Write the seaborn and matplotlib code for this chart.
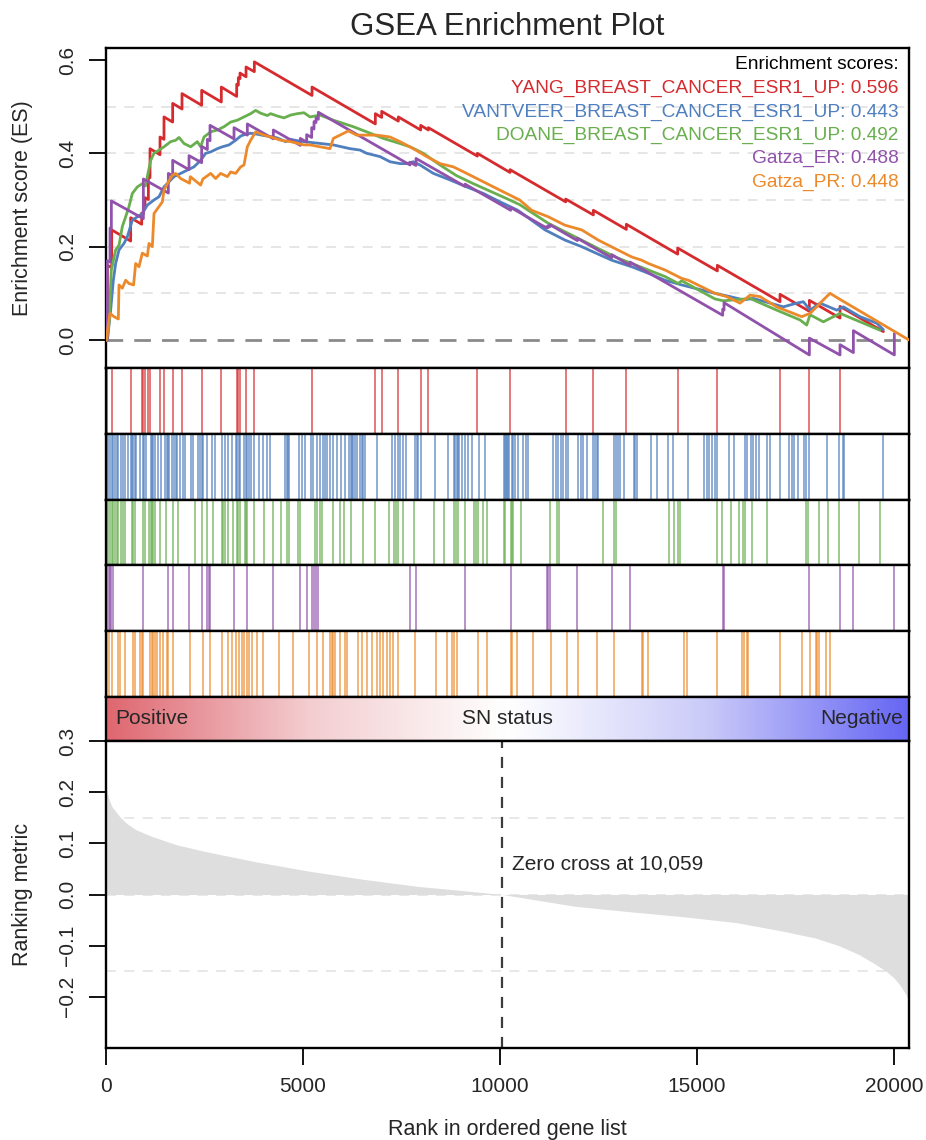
import matplotlib
matplotlib.use("Agg")
import numpy as np
import pandas as pd
import matplotlib.pyplot as plt
import seaborn as sns
from matplotlib.colors import LinearSegmentedColormap

# ---------------- data ----------------
N_GENES = 20380
ZERO_CROSS = 10059

set_names = ["YANG_BREAST_CANCER_ESR1_UP", "VANTVEER_BREAST_CANCER_ESR1_UP",
             "DOANE_BREAST_CANCER_ESR1_UP", "Gatza_ER", "Gatza_PR"]
set_colors = ["#D52B2F", "#4F7FBE", "#69AE4F", "#9052AA", "#EC8A2B"]
es_scores = [0.596, 0.443, 0.492, 0.488, 0.448]

# sawtooth sets: jump ranks with ES just before / after the jump
red_jump_rank = [34, 144, 626, 906, 948, 990, 1075, 1117, 1371, 1472, 1692, 1929, 2428, 2927,
                 3317, 3359, 3401, 3554, 3765, 5229, 6836, 6997, 7420, 7987, 8181, 9425, 10254,
                 11667, 12369, 13206, 14509, 15516, 17106, 17851, 18629]
red_es_before = [0, 0.155, 0.212, 0.248, 0.27, 0.288, 0.301, 0.348, 0.397, 0.43, 0.467, 0.495,
                 0.503, 0.51, 0.522, 0.546, 0.56, 0.564, 0.575, 0.524, 0.463, 0.477, 0.469, 0.45,
                 0.45, 0.394, 0.359, 0.296, 0.268, 0.237, 0.184, 0.148, 0.082, 0.0615, 0.047]
red_es_after = [0.16, 0.236, 0.262, 0.272, 0.29, 0.305, 0.35, 0.41, 0.435, 0.478, 0.507, 0.528,
                0.535, 0.542, 0.548, 0.562, 0.572, 0.585, 0.596, 0.542, 0.485, 0.49, 0.478, 0.46,
                0.455, 0.40, 0.365, 0.302, 0.278, 0.248, 0.197, 0.16, 0.098, 0.085, 0.072]
red_end = (19730, 0.018)

purple_jump_rank = [34, 102, 136, 948, 1582, 1692, 2107, 2428, 2572, 2640, 3249, 3587, 4247, 4932,
                    5093, 5220, 5279, 5330, 5389, 7716, 7868, 9112, 10271, 11184, 11227, 11269,
                    11963, 12834, 13299, 15651, 15685, 17851, 18629, 18968, 20008]
purple_es_before = [0, 0.167, 0.238, 0.26, 0.315, 0.352, 0.365, 0.38, 0.408, 0.427, 0.431, 0.439,
                    0.431, 0.417, 0.424, 0.434, 0.452, 0.466, 0.473, 0.375, 0.374, 0.329, 0.278,
                    0.24, 0.241, 0.243, 0.213, 0.176, 0.16, 0.053, 0.064, -0.032, -0.032, -0.027,
                    -0.032]
purple_es_after = [0.17, 0.24, 0.298, 0.345, 0.357, 0.385, 0.395, 0.415, 0.43, 0.46, 0.455, 0.463,
                   0.45, 0.432, 0.44, 0.455, 0.468, 0.476, 0.488, 0.381, 0.389, 0.334, 0.284,
                   0.243, 0.245, 0.247, 0.218, 0.183, 0.167, 0.066, 0.08, 0.004, -0.01, 0.02,
                   0.014]

# dense sets: running-score vertices
blue_rank = [0, 34, 118, 186, 245, 330, 457, 541, 668, 795, 922, 1049, 1218, 1345, 1472, 1599,
             1726, 1895, 2064, 2233, 2402, 2529, 2656, 2825, 2952, 3122, 3290, 3418, 3545, 3671,
             3841, 4010, 4179, 4348, 4560, 4687, 4856, 5025, 5770, 6193, 6447, 6616, 6954, 7208,
             7462, 7631, 7800, 7970, 8308, 8731, 9154, 9577, 10000, 10450, 11141, 11650, 12072,
             12833, 13341, 13764, 14187, 14610, 15456, 15838, 16176, 16430, 16853, 17191, 17530,
             17700, 17868, 18122, 18545, 18714, 19137, 19560, 19730]
blue_es = [0, 0, 0.064, 0.128, 0.164, 0.193, 0.207, 0.221, 0.257, 0.264, 0.271, 0.289, 0.30,
           0.307, 0.328, 0.339, 0.35, 0.357, 0.364, 0.371, 0.385, 0.40, 0.403, 0.41, 0.414,
           0.418, 0.428, 0.437, 0.441, 0.443, 0.441, 0.438, 0.436, 0.433, 0.425, 0.43, 0.427,
           0.425, 0.418, 0.41, 0.407, 0.40, 0.393, 0.382, 0.378, 0.378, 0.382, 0.375, 0.357,
           0.343, 0.328, 0.314, 0.296, 0.278, 0.236, 0.214, 0.20, 0.171, 0.157, 0.143, 0.128,
           0.118, 0.10, 0.093, 0.086, 0.089, 0.079, 0.071, 0.079, 0.082, 0.064, 0.079, 0.064,
           0.071, 0.05, 0.036, 0.022]

green_rank = [0, 34, 76, 135, 245, 330, 414, 499, 584, 668, 795, 922, 1000, 1134, 1218, 1345,
              1472, 1641, 1768, 1853, 1980, 2149, 2318, 2402, 2487, 2656, 2825, 2995, 3164, 3333,
              3502, 3671, 3798, 3925, 4094, 4179, 4348, 4517, 4687, 4856, 5025, 5178, 5432, 5770,
              6024, 6278, 6616, 7039, 7462, 7716, 8054, 8477, 8900, 9323, 9746, 10169, 10500,
              11226, 12072, 12918, 13341, 14187, 14525, 14610, 15456, 15668, 16345, 17022, 17614,
              17783, 17868, 18206, 18629, 19137, 19645]
green_es = [0, 0, 0.036, 0.15, 0.193, 0.203, 0.243, 0.264, 0.286, 0.314, 0.328, 0.335, 0.33,
            0.385, 0.40, 0.407, 0.414, 0.425, 0.428, 0.434, 0.421, 0.414, 0.425, 0.414, 0.435,
            0.446, 0.45, 0.457, 0.467, 0.471, 0.478, 0.485, 0.492, 0.486, 0.481, 0.485, 0.48,
            0.476, 0.482, 0.485, 0.487, 0.478, 0.482, 0.471, 0.464, 0.457, 0.446, 0.432, 0.421,
            0.414, 0.40, 0.375, 0.352, 0.335, 0.319, 0.303, 0.29, 0.25, 0.214, 0.178, 0.164,
            0.136, 0.121, 0.127, 0.088, 0.084, 0.089, 0.064, 0.043, 0.032, 0.054, 0.039, 0.057,
            0.039, 0.021]

orange_rank = [0, 17, 51, 101, 203, 313, 330, 414, 499, 584, 700, 753, 837, 922, 1050, 1091,
               1176, 1218, 1345, 1430, 1472, 1556, 1683, 1768, 1895, 2120, 2140, 2402, 2460, 2656,
               2783, 2910, 3079, 3164, 3291, 3418, 3502, 3587, 3671, 3798, 4010, 4179, 4433, 4687,
               5025, 5178, 5685, 5770, 5939, 6151, 6362, 6616, 6870, 7208, 7462, 7800, 8139, 8477,
               8816, 9154, 9577, 10000, 10500, 10803, 11226, 11649, 12072, 12495, 12918, 13341,
               13595, 13764, 14187, 14610, 14779, 15118, 15456, 15753, 16091, 16345, 16599, 17022,
               17445, 17657, 17868, 18037, 18206, 18376, 18629, 20380]
orange_es = [0, 0, 0.029, 0.057, 0.05, 0.045, 0.118, 0.111, 0.128, 0.121, 0.118, 0.164, 0.157,
             0.186, 0.18, 0.207, 0.2, 0.271, 0.286, 0.296, 0.321, 0.335, 0.353, 0.357, 0.346,
             0.336, 0.35, 0.332, 0.345, 0.357, 0.346, 0.357, 0.35, 0.36, 0.357, 0.371, 0.375,
             0.414, 0.428, 0.446, 0.439, 0.435, 0.428, 0.425, 0.418, 0.418, 0.41, 0.432, 0.439,
             0.448, 0.439, 0.439, 0.439, 0.435, 0.425, 0.41, 0.393, 0.378, 0.371, 0.357, 0.339,
             0.321, 0.30, 0.278, 0.264, 0.246, 0.236, 0.214, 0.196, 0.178, 0.171, 0.164, 0.15,
             0.132, 0.128, 0.114, 0.10, 0.093, 0.079, 0.096, 0.093, 0.071, 0.057, 0.05, 0.057,
             0.071, 0.086, 0.1, 0.087, 0.0]

# hit positions (gene ranks) per set
red_hits = red_jump_rank
blue_hits = [17, 60, 102, 144, 186, 229, 271, 313, 373, 423, 483, 567, 626, 660, 694, 728, 762,
             863, 931, 973, 1015, 1134, 1168, 1202, 1244, 1329, 1388, 1506, 1540, 1574, 1608,
             1667, 1726, 1768, 1811, 1878, 1946, 2005, 2149, 2217, 2344, 2386, 2428, 2471, 2555,
             2682, 2767, 2936, 3021, 3105, 3190, 3300, 3334, 3367, 3401, 3503, 3545, 3587, 3630,
             3672, 3757, 3892, 3993, 4078, 4163, 4543, 4586, 4628, 4653, 4907, 4966, 5051, 5195,
             5262, 5347, 5432, 5499, 5550, 5601, 5685, 5770, 5872, 5956, 6066, 6176, 6210, 6244,
             6278, 6320, 6379, 6447, 6489, 6531, 6574, 6870, 7251, 7335, 7420, 7462, 7547, 7614,
             7843, 7885, 7927, 7987, 8351, 8689, 8833, 8866, 8900, 8934, 8968, 9027, 9112, 9196,
             9281, 9475, 9619, 10102, 10135, 10152, 10169, 10203, 10237, 10296, 10338, 10381,
             10465, 10575, 10660, 10719, 11354, 11413, 11481, 11548, 11607, 11667, 11734, 11988,
             12047, 12115, 12217, 12352, 12403, 12453, 12496, 12893, 12944, 13003, 13046, 13147,
             13401, 13435, 13469, 13824, 13993, 14272, 14399, 14780, 15178, 15245, 15313, 15372,
             15457, 15516, 15820, 15947, 16218, 16277, 16362, 16430, 16497, 16565, 16768, 16853,
             17106, 17343, 17403, 17462, 17572, 17716, 17766, 17851, 18291, 18612, 18697, 18731,
             19729]
green_hits = [17, 60, 102, 144, 186, 229, 271, 313, 373, 423, 483, 652, 694, 736, 931, 990, 1100,
              1134, 1168, 1202, 1235, 1371, 1523, 1692, 1828, 2259, 2428, 2555, 2707, 2936, 2978,
              3021, 3105, 3215, 3317, 3359, 3401, 3528, 3553, 3587, 3757, 4010, 4230, 4442, 4603,
              4653, 4882, 4924, 5305, 5364, 5432, 5474, 5770, 5939, 6041, 6210, 6514, 6828, 7174,
              7310, 7360, 7420, 7530, 7817, 8325, 8579, 8833, 8883, 8943, 9112, 9340, 9391, 9450,
              9560, 9662, 10102, 10127, 10271, 10296, 10338, 10525, 11269, 11455, 11506, 12623,
              12893, 12944, 14298, 14416, 14526, 14568, 15516, 15626, 15854, 16074, 16159, 16218,
              16387, 16768, 17766, 17826, 18105, 18333, 18612, 19120, 19644]
purple_hits = [34, 68, 102, 136, 186, 948, 1582, 1692, 2107, 2428, 2572, 2606, 2640, 3249, 3587,
               4247, 4932, 5093, 5220, 5279, 5330, 5389, 7716, 7868, 9112, 10271, 11184, 11227,
               11269, 11963, 12834, 13299, 15651, 15685, 17851, 18629, 18968, 20008]
orange_hits = [34, 85, 144, 313, 356, 483, 694, 736, 863, 906, 948, 1117, 1159, 1202, 1244, 1286,
               1371, 1455, 1540, 1582, 1709, 2132, 2454, 2640, 2936, 3105, 3190, 3300, 3384, 3443,
               3503, 3570, 3638, 3697, 3824, 3976, 4391, 4755, 5161, 5364, 5516, 5685, 5728, 5770,
               5812, 5939, 6066, 6125, 6405, 6489, 6616, 6743, 6870, 6954, 7039, 7141, 7208, 7276,
               7420, 7843, 8376, 8646, 8773, 8833, 8900, 9450, 9679, 10271, 10296, 10440, 10846,
               11286, 11692, 11988, 12453, 12893, 13596, 13638, 13765, 14678, 14754, 15516, 16134,
               16193, 16260, 16303, 17106, 17656, 17868, 18020, 18054, 18105, 18274, 18375]

# ranking metric read along the ordered list
metric_rank = [0, 30, 80, 150, 240, 350, 510, 750, 1180, 1800, 2520, 3800, 5200, 6500, 7900,
               9000, 10059, 11900, 13200, 14600, 16000, 17200, 18000, 18600, 19100, 19500, 19800,
               20000, 20150, 20300, 20380]
metric_val = [0.215, 0.2, 0.185, 0.172, 0.163, 0.152, 0.14, 0.127, 0.113, 0.097, 0.084, 0.064,
              0.045, 0.03, 0.016, 0.008, 0.0, -0.023, -0.033, -0.043, -0.055, -0.072, -0.085,
              -0.1, -0.117, -0.135, -0.15, -0.163, -0.177, -0.195, -0.21]


def sawtooth(jumps, before, after, end=None):
    r, e = [0], [0.0]
    for j, b, a in zip(jumps, before, after):
        r += [j, j]
        e += [b, a]
    if end is not None:
        r.append(end[0]); e.append(end[1])
    return r, e


red_rank, red_es = sawtooth(red_jump_rank, red_es_before, red_es_after, red_end)
purple_rank, purple_es = sawtooth(purple_jump_rank, purple_es_before, purple_es_after)

curves = [(red_rank, red_es), (blue_rank, blue_es), (green_rank, green_es),
          (purple_rank, purple_es), (orange_rank, orange_es)]
hits = [red_hits, blue_hits, green_hits, purple_hits, orange_hits]

df = pd.concat([pd.DataFrame({"rank": r, "es": e, "set": n})
                for (r, e), n in zip(curves, set_names)], ignore_index=True)

# ---------------- figure ----------------
sns.set_theme(style="white")
plt.rcParams["font.family"] = ["Liberation Sans", "DejaVu Sans"]
plt.rcParams["axes.unicode_minus"] = True

W, H = 926, 1140
fig = plt.figure(figsize=(W / 100, H / 100), dpi=100)


def px_axes(x0, y0, x1, y1):
    return fig.add_axes([x0 / W, 1 - y1 / H, (x1 - x0) / W, (y1 - y0) / H])


L, R = 106, 909
ax_es = px_axes(L, 48, R, 368)
hit_h = (697 - 368) / 5
hit_axes = [px_axes(L, 368 + hit_h * i, R, 368 + hit_h * (i + 1)) for i in range(5)]
ax_bar = px_axes(L, 697, R, 741)
ax_rm = px_axes(L, 741, R, 1048)

SPINE_W = 1.7
TICK_FS = 15

# --- ES panel ---
for y in [0.1, 0.2, 0.3, 0.4, 0.5]:
    ax_es.axhline(y, color="#E2E2E2", lw=1.2, ls=(0, (6, 5)), zorder=0)
ax_es.axhline(0, color="#8A8A8A", lw=2.0, ls=(0, (6, 4)), zorder=1)
sns.lineplot(data=df, x="rank", y="es", hue="set", hue_order=set_names,
             palette=dict(zip(set_names, set_colors)), sort=False, estimator=None,
             lw=2.0, legend=False, ax=ax_es, zorder=3)
ax_es.set_xlim(0, N_GENES)
ax_es.set_ylim(-0.06, 0.6257)
ax_es.set_xticks([])
ax_es.set_yticks([0.0, 0.2, 0.4, 0.6])
ax_es.set_yticklabels(["0.0", "0.2", "0.4", "0.6"])
ax_es.set_xlabel("")
ax_es.set_ylabel("Enrichment score (ES)", fontsize=15.5)
ax_es.yaxis.set_label_coords((33 - L) / (R - L), 0.5)

legend_y = [0.947, 0.875, 0.80, 0.728, 0.656, 0.581]
ax_es.text(0.9875, legend_y[0], "Enrichment scores:", transform=ax_es.transAxes,
           ha="right", va="center", fontsize=13.8, color="black")
for yy, name, col, sc in zip(legend_y[1:], set_names, set_colors, es_scores):
    ax_es.text(0.9875, yy, f"{name}: {sc:.3f}", transform=ax_es.transAxes,
               ha="right", va="center", fontsize=13.8, color=col)

# --- hit panels ---
for ax, hh, col in zip(hit_axes, hits, set_colors):
    ax.vlines(hh, 0, 1, color=col, lw=1.15, alpha=0.78)
    ax.set_xlim(0, N_GENES)
    ax.set_ylim(0, 1)
    ax.set_xticks([]); ax.set_yticks([])

# --- colour bar ---
cmap = LinearSegmentedColormap.from_list("sn", ["#DF6770", "#F3CDD0", "#FFFFFF", "#CACAF9", "#6666F4"])
ax_bar.imshow(np.linspace(0, 1, 600)[None, :], aspect="auto", cmap=cmap,
              extent=[0, N_GENES, 0, 1])
ax_bar.set_xlim(0, N_GENES); ax_bar.set_ylim(0, 1)
ax_bar.set_xticks([]); ax_bar.set_yticks([])
ax_bar.text(0.012, 0.5, "Positive", transform=ax_bar.transAxes, ha="left", va="center", fontsize=15)
ax_bar.text(0.5, 0.5, "SN status", transform=ax_bar.transAxes, ha="center", va="center", fontsize=15)
ax_bar.text(0.992, 0.5, "Negative", transform=ax_bar.transAxes, ha="right", va="center", fontsize=15)

# --- ranking metric ---
for y in [-0.15, 0.0, 0.15]:
    ax_rm.axhline(y, color="#E4E4E4", lw=1.2, ls=(0, (6, 5)), zorder=0)
ax_rm.fill_between(metric_rank, metric_val, 0, color="#DEDEDE", lw=0, zorder=1)
ax_rm.axvline(ZERO_CROSS, color="#3C3C3C", lw=1.6, ls=(0, (5, 4)), zorder=2)
ax_rm.text(ZERO_CROSS + 250, 0.06, f"Zero cross at {ZERO_CROSS:,}", ha="left", va="center",
           fontsize=15)
ax_rm.set_xlim(0, N_GENES)
ax_rm.set_ylim(-0.3, 0.3)
ax_rm.set_xticks([0, 5000, 10000, 15000, 20000])
ax_rm.set_xticklabels(["0", "5000", "10000", "15000", "20000"])
rm_ticks = [-0.2, -0.1, 0.0, 0.1, 0.2, 0.3]
ax_rm.set_yticks(rm_ticks)
ax_rm.set_yticklabels([f"{v:.1f}".replace("-", "\u2212") for v in rm_ticks])
ax_rm.set_ylabel("Ranking metric", fontsize=15.5)
ax_rm.yaxis.set_label_coords((33 - L) / (R - L), 0.5)
ax_rm.set_xlabel("Rank in ordered gene list", fontsize=15.5)
ax_rm.xaxis.set_label_coords(0.5, (1048 - 1119) / (1048 - 741))

for ax in [ax_es, ax_rm]:
    ax.tick_params(axis="both", direction="out", length=12, width=1.3, pad=9,
                   labelsize=TICK_FS, left=True, bottom=(ax is ax_rm), color="black")
    for lab in ax.get_yticklabels():
        lab.set_rotation(90)
        lab.set_va("center")

for ax in [ax_es, ax_rm, ax_bar] + hit_axes:
    for s in ax.spines.values():
        s.set_color("black")
        s.set_linewidth(SPINE_W)
        s.set_visible(True)

# title centred over the plotting region
fig.text((L + R) / 2 / W, 1 - 27 / H, "GSEA Enrichment Plot", ha="center", va="center",
         fontsize=22.5)

fig.savefig("out.png", dpi=100)
